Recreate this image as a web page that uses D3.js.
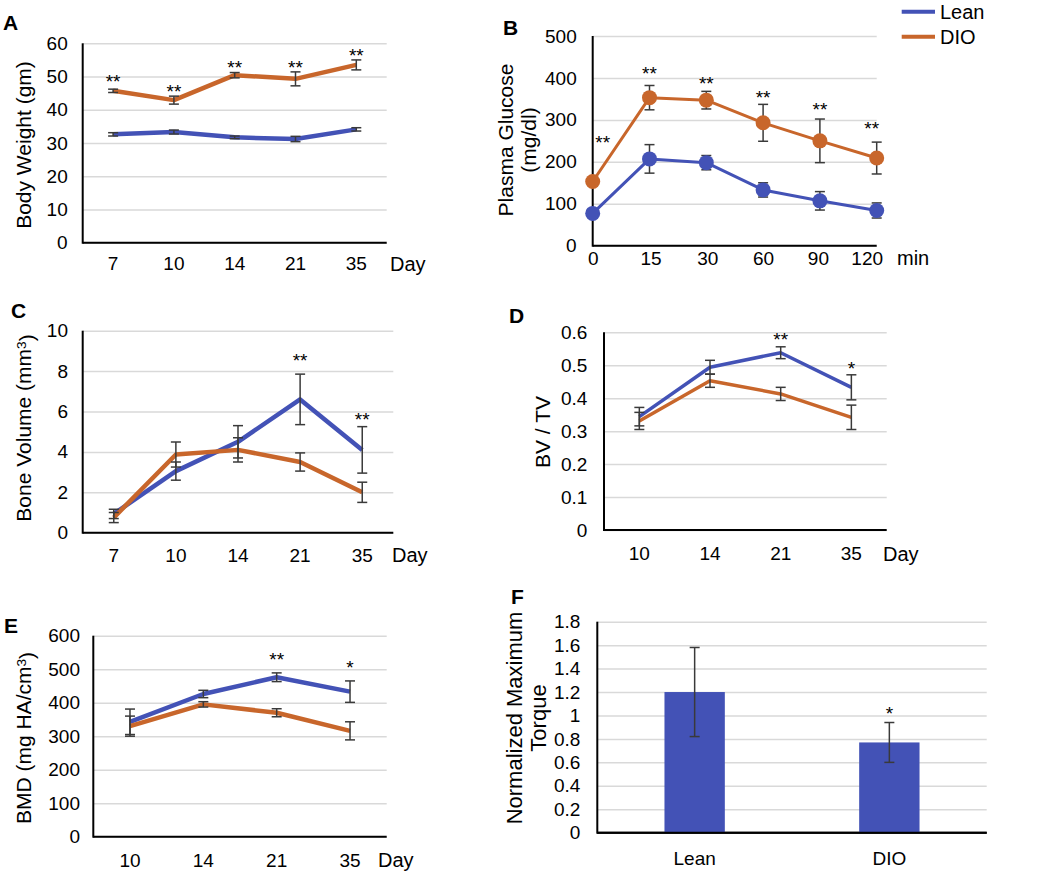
<!DOCTYPE html>
<html>
<head>
<meta charset="utf-8">
<script src="https://cdn.jsdelivr.net/npm/d3@7"></script>
<style>
  html, body { margin: 0; padding: 0; background: #fff; }
  svg { display: block; }
  text { font-family: "Liberation Sans", Arial, sans-serif; fill: #000; }
</style>
</head>
<body>
<svg id="chart" width="1050" height="872"></svg>
<script>
// ---------------- DATA ----------------
const seriesNames = ["Lean", "DIO"];

// A: body weight
const daysA = ["7", "10", "14", "21", "35"];
const weightLean = [32.6, 33.3, 31.7, 31.2, 34.1];
const weightLeanErr = [0.5, 0.6, 0.4, 0.8, 0.5];
const weightDIO = [45.7, 42.9, 50.4, 49.3, 53.5];
const weightDIOErr = [0.5, 1.2, 0.8, 2.1, 1.5];
const weightStars = ["**", "**", "**", "**", "**"];
const weightStarLevel = [49.9, 46.9, 54.1, 54.1, 57.7];
const weightTicks = [0, 10, 20, 30, 40, 50, 60];

// B: plasma glucose
const minutesB = ["0", "15", "30", "60", "90", "120"];
const glucoseLean = [77, 207, 198, 133, 107, 84];
const glucoseLeanErr = [6, 34, 17, 17, 22, 18];
const glucoseDIO = [153, 353, 347, 293, 250, 209];
const glucoseDIOErr = [8, 29, 21, 44, 52, 38];
const glucoseStars = ["**", "**", "**", "**", "**", "**"];
const glucoseStarLevel = [257, 421, 397, 365, 336, 290];
const glucoseTicks = [0, 100, 200, 300, 400, 500];

// C: bone volume
const daysC = ["7", "10", "14", "21", "35"];
const boneVolLean = [0.93, 3.05, 4.5, 6.6, 4.1];
const boneVolLeanErr = [0.23, 0.45, 0.8, 1.25, 1.15];
const boneVolDIO = [0.75, 3.87, 4.1, 3.5, 2.0];
const boneVolDIOErr = [0.25, 0.62, 0.6, 0.45, 0.5];
const boneVolStars = ["", "", "", "**", "**"];
const boneVolStarLevel = [0, 0, 0, 8.75, 5.83];
const boneVolTicks = [0, 2, 4, 6, 8, 10];

// D: BV / TV
const daysD = ["10", "14", "21", "35"];
const bvtvLean = [0.344, 0.494, 0.538, 0.433];
const bvtvLeanErr = [0.028, 0.021, 0.018, 0.038];
const bvtvDIO = [0.331, 0.453, 0.413, 0.342];
const bvtvDIOErr = [0.026, 0.02, 0.02, 0.037];
const bvtvStars = ["", "", "**", "*"];
const bvtvStarLevel = [0, 0, 0.592, 0.504];
const bvtvTicks = [0, 0.1, 0.2, 0.3, 0.4, 0.5, 0.6];

// E: BMD
const daysE = ["10", "14", "21", "35"];
const bmdLean = [343, 426, 476, 433];
const bmdLeanErr = [38, 11, 13, 32];
const bmdDIO = [330, 395, 370, 316];
const bmdDIOErr = [30, 8, 12, 27];
const bmdStars = ["", "", "**", "*"];
const bmdStarLevel = [0, 0, 542, 518];
const bmdTicks = [0, 100, 200, 300, 400, 500, 600];

// F: normalized maximum torque
const groupsF = ["Lean", "DIO"];
const torque = [1.2, 0.77];
const torqueErr = [0.38, 0.17];
const torqueStars = ["", "*"];
const torqueStarLevel = [0, 1.053];
const torqueTicks = [0, 0.2, 0.4, 0.6, 0.8, 1, 1.2, 1.4, 1.6, 1.8];

// ---------------- STYLE ----------------
const BLUE = "#4352b6";
const ORANGE = "#c8662b";
const GRID = "#d9d9d9";
const ERR = "#3a3a3a";
const TICK_FS = 19;
const TITLE_FS = 21;

const svg = d3.select("#chart");
const fmt = d => String(+(+d).toFixed(2));

function drawFrame(g, cfg, x, y) {
  // gridlines
  const grid = g.append("g")
    .attr("transform", `translate(${cfg.x0},0)`)
    .call(d3.axisLeft(y).tickValues(cfg.ticks).tickSize(-(cfg.x1 - cfg.x0)).tickFormat(""));
  grid.select(".domain").remove();
  grid.selectAll("line").attr("stroke", GRID).attr("stroke-width", 1.5);
  // y tick labels
  const ya = g.append("g")
    .attr("transform", `translate(${cfg.x0},0)`)
    .call(d3.axisLeft(y).tickValues(cfg.ticks).tickSize(0).tickPadding(cfg.tickGap).tickFormat(fmt));
  ya.select(".domain").remove();
  ya.selectAll("text").attr("font-size", TICK_FS).attr("fill", "#000")
    .attr("font-family", '"Liberation Sans", Arial, sans-serif');
  // x tick labels
  const xa = g.append("g")
    .attr("transform", `translate(0,${cfg.yBot})`)
    .call(d3.axisBottom(x).tickSize(0).tickPadding(0));
  xa.select(".domain").remove();
  xa.selectAll("text").attr("font-size", TICK_FS).attr("fill", "#000")
    .attr("font-family", '"Liberation Sans", Arial, sans-serif')
    .attr("y", cfg.xLabelY - cfg.yBot).attr("dy", "0.35em")
    .attr("dx", (d, i) => (cfg.labelDx ? cfg.labelDx[i] : 0));
  // axis lines
  g.append("line").attr("x1", cfg.x0).attr("x2", cfg.x0).attr("y1", cfg.yTop).attr("y2", cfg.yBot + 1)
    .attr("stroke", "#000").attr("stroke-width", 2);
  g.append("line").attr("x1", cfg.x0).attr("x2", cfg.x1).attr("y1", cfg.yBot).attr("y2", cfg.yBot)
    .attr("stroke", "#000").attr("stroke-width", 2);
  // unit label
  if (cfg.unit) {
    g.append("text").attr("x", cfg.unitX).attr("y", cfg.xLabelY).attr("dy", "0.35em")
      .attr("font-size", TITLE_FS - 1).text(cfg.unit);
  }
  // y title
  const t = g.append("text")
    .attr("transform", `translate(${cfg.titleX},${cfg.titleY}) rotate(-90)`)
    .attr("text-anchor", "middle").attr("font-size", cfg.titleFs || TITLE_FS);
  cfg.title.forEach((line, i) => {
    const ts = t.append("tspan").attr("x", 0).attr("dy", i === 0 ? 0 : "1.08em");
    if (Array.isArray(line)) {
      line.forEach(part => {
        const s = ts.append("tspan").text(part.t);
        if (part.sup) s.attr("dy", "-0.4em").attr("font-size", "0.65em");
        if (part.down) s.attr("dy", "0.4em");
      });
    } else ts.text(line);
  });
  // panel letter
  g.append("text").attr("x", cfg.letterX).attr("y", cfg.letterY)
    .attr("font-size", 21).attr("font-weight", "bold").text(cfg.letter);
}

function drawErr(g, xs, vals, errs, y, cap) {
  vals.forEach((v, i) => {
    const xi = xs[i], yt = y(v + errs[i]), yb = y(v - errs[i]);
    g.append("line").attr("x1", xi).attr("x2", xi).attr("y1", yt).attr("y2", yb)
      .attr("stroke", ERR).attr("stroke-width", 1.5);
    [yt, yb].forEach(yy => g.append("line").attr("x1", xi - cap).attr("x2", xi + cap)
      .attr("y1", yy).attr("y2", yy).attr("stroke", ERR).attr("stroke-width", 1.5));
  });
}

function drawStars(g, xs, stars, levels, y, dx) {
  stars.forEach((s, i) => {
    if (!s) return;
    g.append("text").attr("x", xs[i] + (dx ? dx[i] : 0)).attr("y", y(levels[i]) + 11)
      .attr("text-anchor", "middle").attr("font-size", 19).text(s);
  });
}

function linePanel(cfg) {
  const g = svg.append("g");
  let x, xs;
  if (cfg.point) {
    x = d3.scalePoint().domain(cfg.cats).range([cfg.x0, cfg.x1]);
    xs = cfg.cats.map(c => x(c));
  } else {
    x = d3.scaleBand().domain(cfg.cats).range([cfg.x0, cfg.x1]);
    xs = cfg.cats.map(c => x(c) + x.bandwidth() / 2);
  }
  const y = d3.scaleLinear().domain([0, d3.max(cfg.ticks)]).range([cfg.yBot, cfg.yTop]);
  drawFrame(g, cfg, x, y);
  const line = d3.line().x((d, i) => xs[i]).y(d => y(d));
  const series = [
    { vals: cfg.lean, errs: cfg.leanErr, color: BLUE },
    { vals: cfg.dio, errs: cfg.dioErr, color: ORANGE }
  ];
  series.forEach(s => {
    g.append("path").datum(s.vals).attr("d", line).attr("fill", "none")
      .attr("stroke", s.color).attr("stroke-width", cfg.lw).attr("stroke-linejoin", "round");
  });
  series.forEach(s => drawErr(g, xs, s.vals, s.errs, y, 5));
  if (cfg.markers) {
    series.forEach(s => {
      g.selectAll(null).data(s.vals).enter().append("circle")
        .attr("cx", (d, i) => xs[i]).attr("cy", d => y(d)).attr("r", 7.5)
        .attr("fill", s.color);
    });
  }
  drawStars(g, xs, cfg.stars, cfg.starLevel, y, cfg.starDx);
  return g;
}

// A
linePanel({
  letter: "A", letterX: 3, letterY: 30,
  x0: 82.7, x1: 386.7, yTop: 43.3, yBot: 242.7, tickGap: 15, xLabelY: 263.5,
  cats: daysA, ticks: weightTicks, lean: weightLean, leanErr: weightLeanErr,
  dio: weightDIO, dioErr: weightDIOErr, stars: weightStars, starLevel: weightStarLevel,
  unit: "Day", unitX: 390, lw: 4.5,
  title: ["Body Weight (gm)"], titleX: 31, titleY: 145
});

// B
linePanel({
  letter: "B", letterX: 503, letterY: 35, point: true, markers: true,
  x0: 592.7, x1: 876.7, yTop: 36, yBot: 245.7, tickGap: 16, xLabelY: 258,
  cats: minutesB, ticks: glucoseTicks, lean: glucoseLean, leanErr: glucoseLeanErr,
  dio: glucoseDIO, dioErr: glucoseDIOErr, stars: glucoseStars, starLevel: glucoseStarLevel,
  starDx: [10, 0, 0, 0, 0, -5], labelDx: [0, 1, 1, 0, -2, -10],
  unit: "min", unitX: 897, lw: 3,
  title: ["Plasma Glucose", "(mg/dl)"], titleX: 513, titleY: 140
});

// C
linePanel({
  letter: "C", letterX: 11, letterY: 318,
  x0: 82.7, x1: 393.3, yTop: 330.7, yBot: 532.7, tickGap: 14.7, xLabelY: 555,
  cats: daysC, ticks: boneVolTicks, lean: boneVolLean, leanErr: boneVolLeanErr,
  dio: boneVolDIO, dioErr: boneVolDIOErr, stars: boneVolStars, starLevel: boneVolStarLevel,
  unit: "Day", unitX: 392, lw: 4.5,
  title: [[{ t: "Bone Volume (mm" }, { t: "3", sup: true }, { t: ")", down: true }]], titleX: 31, titleY: 428
});

// D
linePanel({
  letter: "D", letterX: 509, letterY: 323,
  x0: 604, x1: 886.7, yTop: 332.3, yBot: 530, tickGap: 16.7, xLabelY: 553.5,
  cats: daysD, ticks: bvtvTicks, lean: bvtvLean, leanErr: bvtvLeanErr,
  dio: bvtvDIO, dioErr: bvtvDIOErr, stars: bvtvStars, starLevel: bvtvStarLevel,
  unit: "Day", unitX: 883, lw: 3.5,
  title: ["BV / TV"], titleX: 550, titleY: 432
});

// E
linePanel({
  letter: "E", letterX: 4, letterY: 633,
  x0: 93.3, x1: 386.7, yTop: 635.7, yBot: 836.7, tickGap: 13.3, xLabelY: 860,
  cats: daysE, ticks: bmdTicks, lean: bmdLean, leanErr: bmdLeanErr,
  dio: bmdDIO, dioErr: bmdDIOErr, stars: bmdStars, starLevel: bmdStarLevel,
  unit: "Day", unitX: 378, lw: 4.5,
  title: [[{ t: "BMD (mg HA/cm" }, { t: "3", sup: true }, { t: ")", down: true }]], titleX: 31, titleY: 738
});

// F (bar chart)
(function () {
  const cfg = {
    letter: "F", letterX: 511, letterY: 604,
    x0: 597.3, x1: 986.7, yTop: 621.7, yBot: 832.7, tickGap: 17, xLabelY: 858,
    ticks: torqueTicks, title: ["Normalized Maximum", "Torque"], titleX: 522, titleY: 718, titleFs: 22
  };
  const g = svg.append("g");
  const x = d3.scaleBand().domain(groupsF).range([cfg.x0, cfg.x1]).paddingInner(0.69).paddingOuter(0.345);
  const y = d3.scaleLinear().domain([0, d3.max(torqueTicks)]).range([cfg.yBot, cfg.yTop]);
  drawFrame(g, cfg, x, y);
  g.selectAll(null).data(torque).enter().append("rect")
    .attr("x", (d, i) => x(groupsF[i])).attr("width", x.bandwidth())
    .attr("y", d => y(d)).attr("height", d => cfg.yBot - y(d))
    .attr("fill", BLUE);
  // redraw baseline over bars
  g.append("line").attr("x1", cfg.x0).attr("x2", cfg.x1).attr("y1", cfg.yBot).attr("y2", cfg.yBot)
    .attr("stroke", "#000").attr("stroke-width", 2);
  const xs = groupsF.map(c => x(c) + x.bandwidth() / 2);
  drawErr(g, xs, torque, torqueErr, y, 5);
  drawStars(g, xs, torqueStars, torqueStarLevel, y);
})();

// Legend
const legend = svg.append("g");
seriesNames.forEach((name, i) => {
  const yy = 11.7 + i * 25;
  legend.append("line").attr("x1", 901.7).attr("x2", 935).attr("y1", yy).attr("y2", yy)
    .attr("stroke", i === 0 ? BLUE : ORANGE).attr("stroke-width", 4);
  legend.append("text").attr("x", 940).attr("y", yy).attr("dy", "0.35em")
    .attr("font-size", 20).text(name);
});
</script>
</body>
</html>
